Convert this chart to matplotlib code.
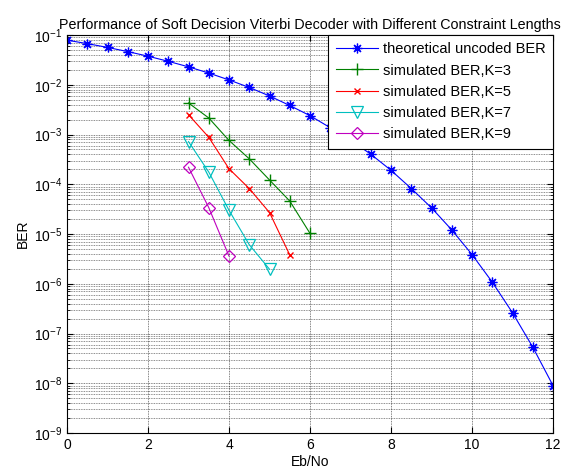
import numpy as np
import matplotlib
matplotlib.use("Agg")
import matplotlib.pyplot as plt
from matplotlib.ticker import LogLocator, FixedLocator

plt.rcParams['font.family'] = ['Liberation Sans', 'DejaVu Sans']
plt.rcParams['mathtext.fontset'] = 'custom'
plt.rcParams['mathtext.rm'] = 'Liberation Sans'
plt.rcParams['mathtext.it'] = 'Liberation Sans:italic'
plt.rcParams['mathtext.bf'] = 'Liberation Sans:bold'
plt.rcParams['mathtext.sf'] = 'Liberation Sans'

# ---- data ----
ebno_theory = [0, 0.5, 1, 1.5, 2, 2.5, 3, 3.5, 4, 4.5, 5, 5.5, 6, 6.5, 7, 7.5, 8,
               8.5, 9, 9.5, 10, 10.5, 11, 11.5, 12]
ber_theory = [7.86e-2, 6.71e-2, 5.63e-2, 4.64e-2, 3.75e-2, 2.96e-2, 2.29e-2, 1.72e-2,
              1.25e-2, 8.83e-3, 5.95e-3, 3.83e-3, 2.39e-3, 1.37e-3, 7.73e-4, 4.02e-4,
              1.91e-4, 8.21e-5, 3.36e-5, 1.21e-5, 3.87e-6, 1.08e-6, 2.61e-7, 5.33e-8,
              9.0e-9]

ebno_k3 = [3, 3.5, 4, 4.5, 5, 5.5, 6]
ber_k3 = [4.3e-3, 2.15e-3, 7.6e-4, 3.25e-4, 1.22e-4, 4.6e-5, 1.03e-5]

ebno_k5 = [3, 3.5, 4, 4.5, 5, 5.5]
ber_k5 = [2.5e-3, 8.8e-4, 2.05e-4, 8.2e-5, 2.7e-5, 3.8e-6]

ebno_k7 = [3, 3.5, 4, 4.5, 5]
ber_k7 = [7.2e-4, 1.76e-4, 3.0e-5, 6.1e-6, 1.96e-6]

ebno_k9 = [3, 3.5, 4]
ber_k9 = [2.2e-4, 3.4e-5, 3.6e-6]

labels = ["theoretical uncoded BER", "simulated BER,K=3", "simulated BER,K=5",
          "simulated BER,K=7", "simulated BER,K=9"]
title = "Performance of Soft Decision Viterbi Decoder with Different Constraint Lengths"
xticks = [0, 2, 4, 6, 8, 10, 12]
yexps = list(range(-9, 0))

# ---- figure ----
fig = plt.figure(figsize=(5.71, 4.71), dpi=100)
ax = fig.add_axes([67/571, 1-433/471, (553-67)/571, (433-35)/471])

lw = 0.8
asterisk = (8, 2, 0)
ax.semilogy(ebno_theory, ber_theory, color=(0, 0, 1), marker=asterisk, ms=7, lw=lw,
            mew=0.9, label=labels[0])
ax.semilogy(ebno_k3, ber_k3, color=(0, 0.5, 0), marker='+', ms=9, lw=lw,
            mew=1.0, label=labels[1])
ax.semilogy(ebno_k5, ber_k5, color=(1, 0, 0), marker='x', ms=5, lw=lw,
            mew=1.0, label=labels[2])
ax.semilogy(ebno_k7, ber_k7, color=(0, 0.75, 0.75), marker='v', ms=8, lw=lw,
            mew=0.9, mfc='none', label=labels[3])
ax.semilogy(ebno_k9, ber_k9, color=(0.75, 0, 0.75), marker='D', ms=6, lw=lw,
            mew=0.9, mfc='none', label=labels[4])

ax.set_xlim(0, 12)
ax.set_ylim(1e-9, 1e-1)
ax.xaxis.set_major_locator(FixedLocator(xticks))
ax.set_yticks([10.0**e for e in yexps])
ax.set_yticklabels([r'$10^{%d}$' % e for e in yexps])
ax.yaxis.set_minor_locator(LogLocator(base=10, subs=np.arange(2, 10), numticks=20))
ax.yaxis.set_minor_formatter(matplotlib.ticker.NullFormatter())

ax.grid(True, which='major', color='black', alpha=0.65, lw=0.6, ls=(0, (1, 1)))
ax.grid(True, which='minor', axis='y', color='black', alpha=0.6, lw=0.6, ls=(0, (1, 1)))
ax.set_axisbelow(True)

ax.tick_params(which='both', direction='in', top=True, right=True, labelsize=10)
ax.tick_params(which='major', length=4)
ax.tick_params(which='minor', length=2)
for s in ax.spines.values():
    s.set_linewidth(0.8)

ax.set_xlabel("Eb/No", fontsize=10, labelpad=2)
ax.set_ylabel("BER", fontsize=10, labelpad=3)
ax.set_title(title, fontsize=10.3, pad=4)

leg = ax.legend(loc='upper right', fontsize=10.5, frameon=True, fancybox=False,
                edgecolor='black', framealpha=1, borderaxespad=0,
                handlelength=2.9, labelspacing=0.5, borderpad=0.5,
                handletextpad=0.35)
leg.get_frame().set_linewidth(0.8)

fig.savefig("out.png", dpi=100)
